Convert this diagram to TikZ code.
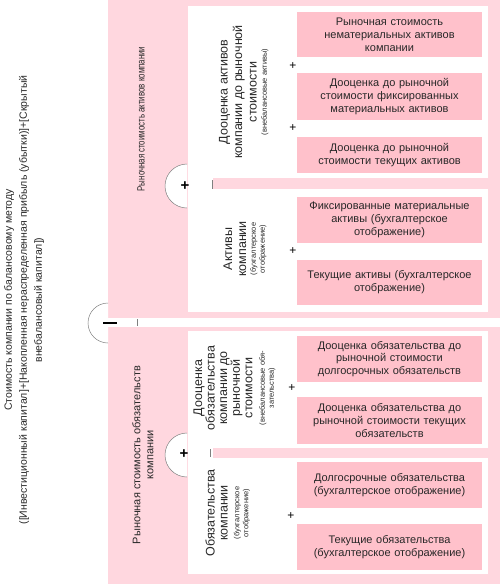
\documentclass[tikz,border=0pt]{standalone}
\usepackage{fontspec}
\setmainfont{Liberation Sans}
\newfontfamily\narrowfont[FakeStretch=0.75]{Liberation Sans}
\definecolor{opink}{RGB}{255,215,223}
\definecolor{bpink}{RGB}{255,193,203}
\definecolor{txt}{RGB}{40,40,40}
\begin{document}
\begin{tikzpicture}[x=1pt,y=-1pt,
  outer/.style={fill=opink,draw=none},
  panel/.style={fill=white,draw=none},
  box/.style={fill=bpink,draw=none,minimum width=185pt,inner sep=0pt,text width=183pt,align=center,text=txt,font=\fontsize{11}{12.8}\selectfont},
  plus/.style={font=\fontsize{12}{12}\selectfont,inner sep=0pt},
  bigplus/.style={font=\fontsize{15}{15}\selectfont\bfseries,inner sep=0pt},
  rlab/.style={rotate=90,align=center,inner sep=0pt,text=txt},
  bigt/.style={rlab,font=\fontsize{12.5}{14}\selectfont},
  smallt/.style={rlab,font=\fontsize{7.5}{9}\selectfont},
  circ/.style={draw=gray,line width=0.5pt,fill=white},
  tick/.style={draw=gray,line width=0.5pt}]
\useasboundingbox (0,0) rectangle (500,584);
\fill[white] (0,0) rectangle (500,584);
% outer blocks
\fill[outer] (108,0) rectangle (500,318);
\fill[outer] (108,327) rectangle (500,584);
% panels
\fill[panel] (188,6) rectangle (488,178);
\fill[panel] (188,189) rectangle (488,312);
\fill[panel] (188,177) rectangle (213,190);
\fill[panel] (188,331) rectangle (488,448);
\fill[panel] (188,458) rectangle (488,574);
\fill[panel] (188,447) rectangle (213,459);
% boxes
\node[box,minimum height=45pt] (b1) at (389.5,34.5) {Рыночная стоимость\\нематериальных активов\\компании};
\node[box,minimum height=47pt] (b2) at (389.5,96.5) {Дооценка до рыночной\\стоимости фиксированных\\материальных активов};
\node[box,minimum height=36pt] (b3) at (389.5,155) {Дооценка до рыночной\\стоимости текущих активов};
\node[box,minimum height=46pt] (b4) at (389.5,220) {Фиксированные материальные\\активы (бухгалтерское\\отображение)};
\node[box,minimum height=45pt] (b5) at (389.5,282.5) {Текущие активы (бухгалтерское\\отображение)};
\node[box,minimum height=46pt] (b6) at (389.5,359) {Дооценка обязательства до\\рыночной стоимости\\долгосрочных обязательств};
\node[box,minimum height=47pt] (b7) at (389.5,420.5) {Дооценка обязательства до\\рыночной стоимости текущих\\обязательств};
\node[box,minimum height=46pt] (b8) at (389.5,485) {Долгосрочные обязательства\\(бухгалтерское отображение)};
\node[box,minimum height=46pt] (b9) at (389.5,547) {Текущие обязательства\\(бухгалтерское отображение)};
% small plus signs
\node[plus] (p1) at (293,66) {+};
\node[plus] (p2) at (293,128) {+};
\node[plus] (p3) at (293,251) {+};
\node[plus] (p4) at (292,388) {+};
\node[plus] (p5) at (291,516) {+};
% circles
\draw[circ] (108,343) arc[start angle=90,end angle=270,radius=20];
\draw[line width=1.6pt] (103,323) -- (117,323);
\draw[circ] (187,208) arc[start angle=90,end angle=270,radius=22];
\node[bigplus] (cp1) at (185,186) {+};
\draw[circ] (187,477) arc[start angle=90,end angle=270,radius=22];
\node[bigplus] (cp2) at (184,454) {+};
% ticks
\draw[tick] (137,319) -- (137,326);
\draw[tick] (212,180) -- (212,189);
\draw[tick] (210,449) -- (210,457);
% rotated labels
\node[rlab,font=\fontsize{10.5}{15}\selectfont] (main) at (24,300) {Стоимость компании по балансовому методу\\([Инвестиционный капитал]+[Накопленная нераспределенная прибыль (убытки)]+[Скрытый\\внебалансовый капитал])};
\node[rlab,font=\narrowfont\fontsize{10.5}{13}\selectfont] (ra) at (141,119) {Рыночная стоимость активов компании};
\node[rlab,font=\fontsize{11}{13}\selectfont] (rl) at (143,455) {Рыночная стоимость обязательств\\компании};
\node[bigt,font=\fontsize{12.5}{14.5}\selectfont] (da) at (238,92) {Дооценка активов\\компании до рыночной\\стоимости};
\node[smallt] (das) at (265,92) {(внебалансовые активы)};
\node[bigt] (aa) at (235,249) {Активы\\компании};
\node[smallt] (aas) at (258.5,249) {(бухгалтерское\\отображение)};
\node[bigt,font=\fontsize{12.5}{12.6}\selectfont] (dl) at (223,388) {Дооценка\\обязательства\\компании до\\рыночной\\стоимости};
\node[smallt] (dls) at (267.5,388) {(внебалансовые обя-\\зательства)};
\node[bigt,font=\fontsize{12.5}{13}\selectfont] (ol) at (216.5,513) {Обязательства\\компании};
\node[smallt] (ols) at (242,513) {(бухгалтерское\\отображение)};
\end{tikzpicture}
\end{document}
